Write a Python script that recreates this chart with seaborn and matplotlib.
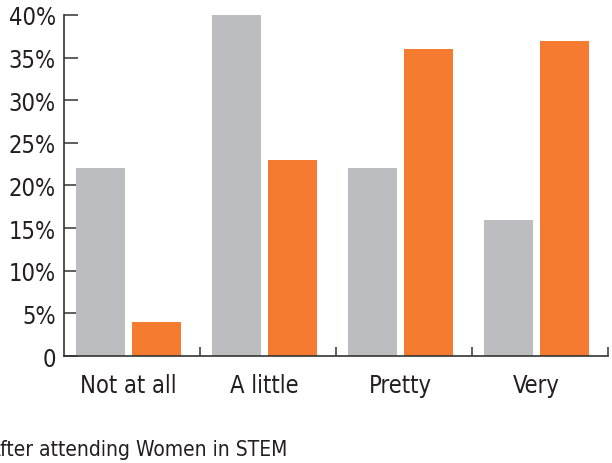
import pandas as pd
import seaborn as sns
import matplotlib.pyplot as plt
from matplotlib.ticker import FixedLocator

# data
categories = ["Not at all", "A little", "Pretty", "Very"]
before = [22, 40, 22, 16]
after = [4, 23, 36, 37]
series = ["Before attending Women in STEM", "After attending Women in STEM"]
y_ticks = [0, 5, 10, 15, 20, 25, 30, 35, 40]
y_labels = ["0", "5%", "10%", "15%", "20%", "25%", "30%", "35%", "40%"]

df = pd.DataFrame({
    "category": categories * 2,
    "value": before + after,
    "series": [series[0]] * 4 + [series[1]] * 4,
})

sns.set_style("white")
plt.rcParams["font.family"] = ["DejaVu Sans Condensed", "Liberation Sans Narrow", "DejaVu Sans"]
plt.rcParams["font.stretch"] = "condensed"

fig = plt.figure(figsize=(6.12, 4.64), dpi=100)
ax = fig.add_axes([0.1046, 0.2306, 0.889, 0.735])

sns.barplot(data=df, x="category", y="value", hue="series",
            palette=["#bcbdc1", "#f47b30"], width=0.82, gap=0.12,
            saturation=1, linewidth=0, ax=ax, legend=False)

# bar pairs sit a little left of the group centre in the source
off = 0.025
ax.set_xlim(-0.5 + off, 3.5 + off)
ax.set_ylim(0, 40)
ax.set_yticks(y_ticks)
ax.set_yticklabels(y_labels, fontsize=17, color="#231f20")
ax.set_xlabel("")
ax.set_ylabel("")
ax.tick_params(axis="x", which="major", length=0, labelsize=17,
               labelcolor="#231f20", pad=12)
ax.xaxis.set_minor_locator(FixedLocator([0.5 + off, 1.5 + off, 2.5 + off, 3.5 + off]))
ax.tick_params(axis="x", which="minor", direction="in", length=6.5,
               width=1.1, color="#333333", bottom=True)
ax.tick_params(axis="y", direction="in", length=10, width=1.1,
               color="#333333", pad=6, left=True)

sns.despine(ax=ax, top=True, right=True)
for side in ["left", "bottom"]:
    ax.spines[side].set_color("#333333")
    ax.spines[side].set_linewidth(1.2)

# legend text, cut at the left edge as in the source
fig.text(-0.019, 0.03, series[1], fontsize=15, color="#231f20",
         va="center", ha="left")

plt.savefig("out.png", dpi=100)
